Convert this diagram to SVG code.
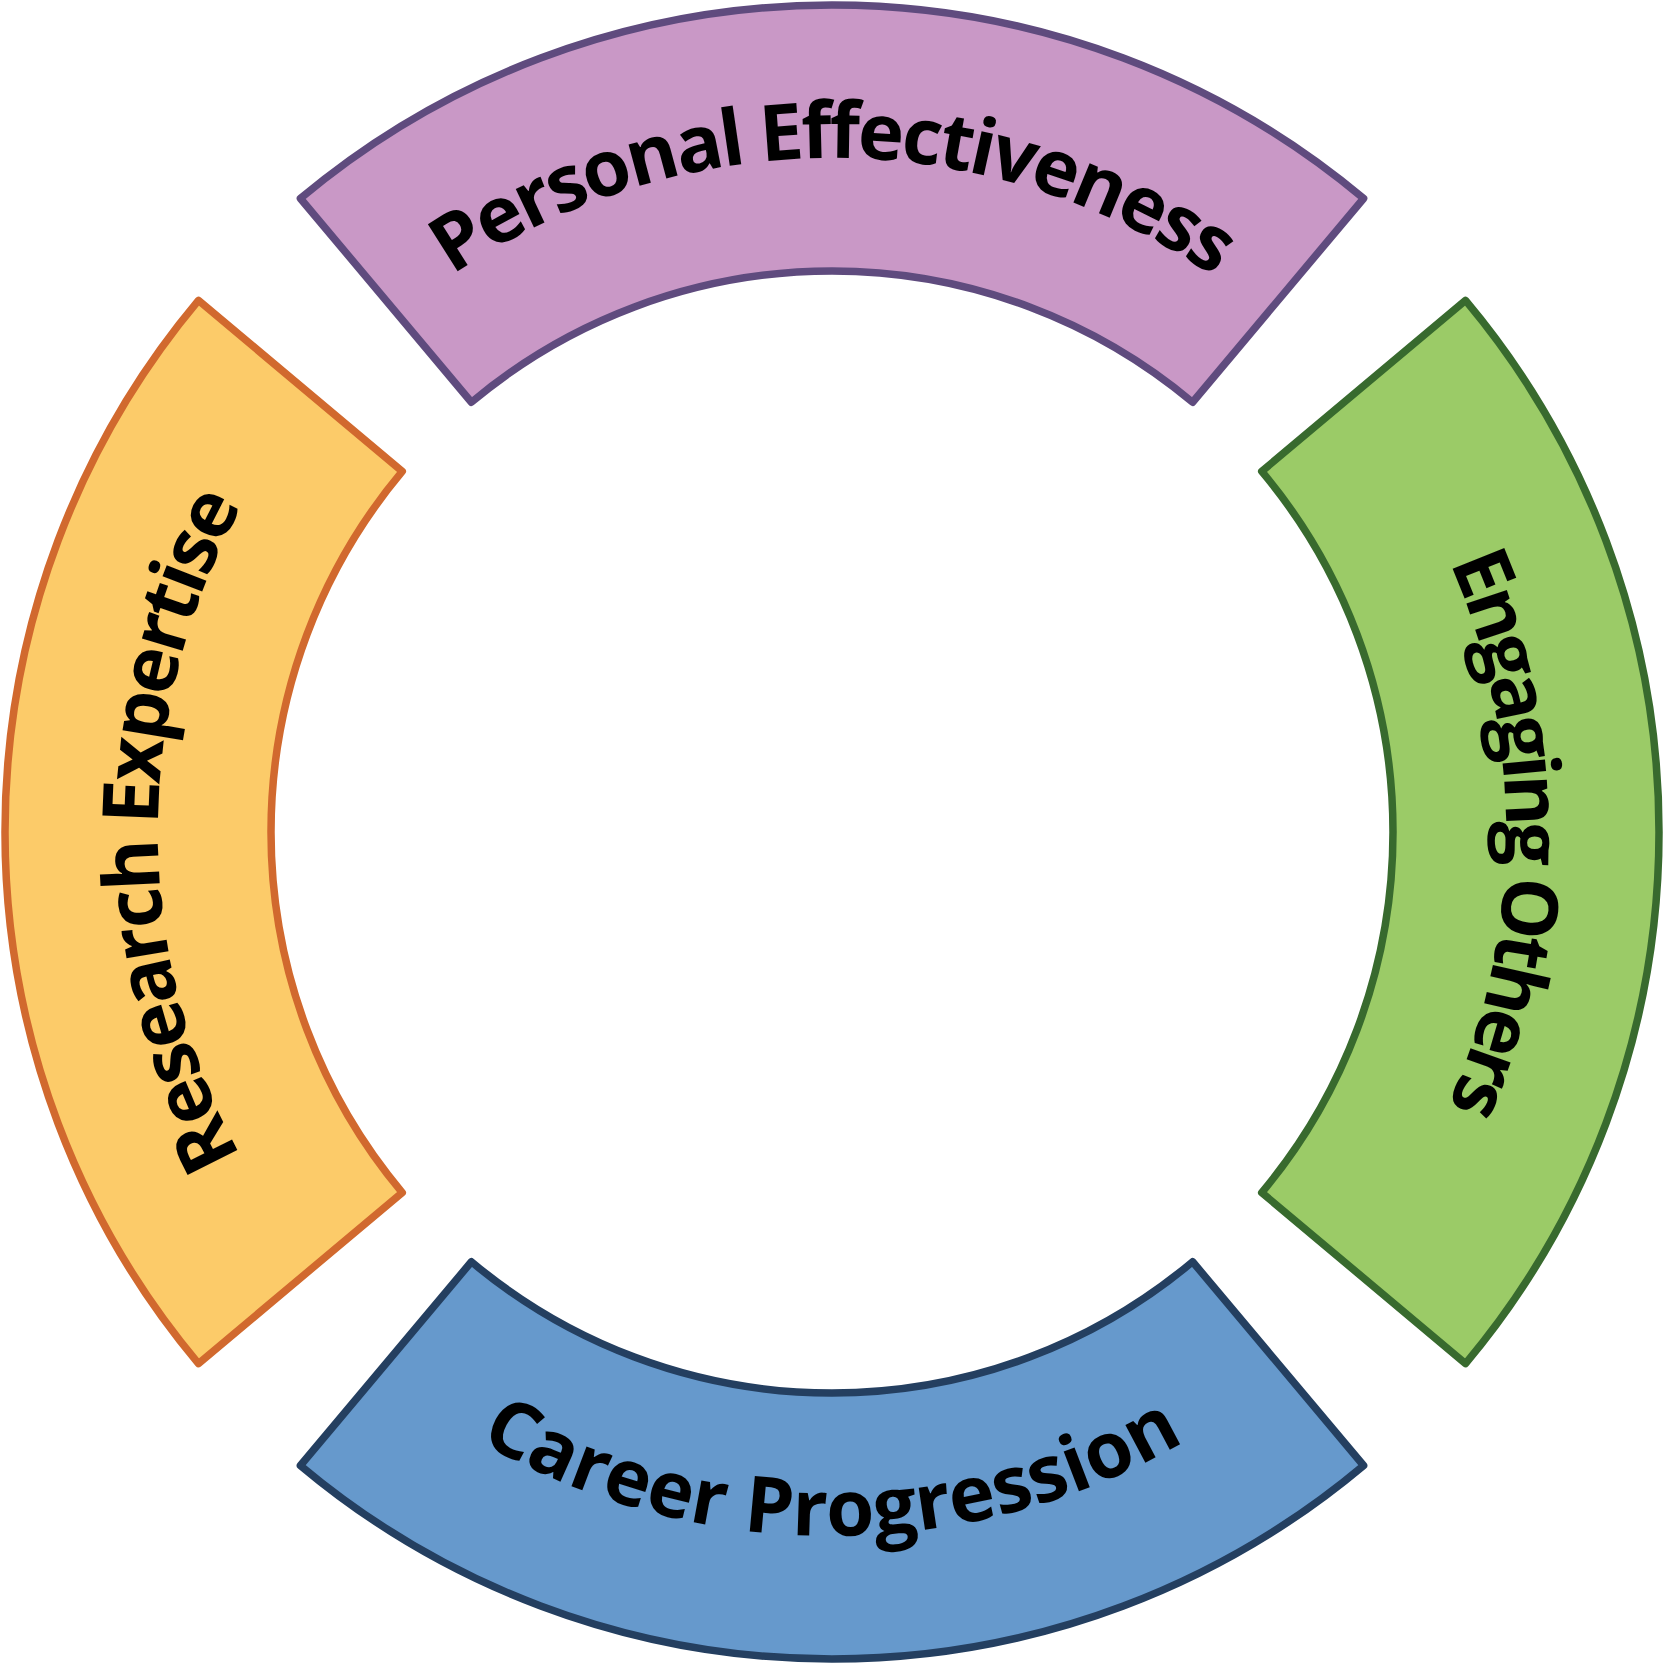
<svg xmlns="http://www.w3.org/2000/svg" xmlns:xlink="http://www.w3.org/1999/xlink" width="1664" height="1664" viewBox="0 0 1664 1664">
  <style>
    .seg { stroke-width: 7.5; stroke-linejoin: round; }
    .lbl { font-family: "Open Sans", "Noto Sans", "Liberation Sans", sans-serif; font-weight: 700; font-size: 78px; fill: #000000; }
  </style>
  <defs>
    <path id="arcTop" d="M 168.24 714.96 A 674 674 0 0 1 1495.76 714.96"/>
    <path id="arcRight" d="M 949.04 168.24 A 674 674 0 0 1 949.04 1495.76"/>
    <path id="arcLeft" d="M 714.96 1495.76 A 674 674 0 0 1 714.96 168.24"/>
    <path id="arcBottom" d="M 138.7 954.25 A 704 704 0 0 0 1525.3 954.25"/>
  </defs>
  <rect width="1664" height="1664" fill="#ffffff"/>
  <g id="personal-effectiveness">
    <path class="seg" fill="#C998C6" stroke="#5F4B7E" d="M 300.42 198.48 A 827 827 0 0 1 1363.58 198.48 L 1192.6 402.25 A 561 561 0 0 0 471.4 402.25 Z"/>
    <text class="lbl" letter-spacing="-3"><textPath xlink:href="#arcTop" href="#arcTop" startOffset="50%" text-anchor="middle">Personal Effectiveness</textPath></text>
  </g>
  <g id="engaging-others">
    <path class="seg" fill="#9BCB67" stroke="#386A2E" d="M 1465.52 300.42 A 827 827 0 0 1 1465.52 1363.58 L 1261.75 1192.6 A 561 561 0 0 0 1261.75 471.4 Z"/>
    <text class="lbl" letter-spacing="-5.5"><textPath xlink:href="#arcRight" href="#arcRight" startOffset="50%" text-anchor="middle">Engaging Others</textPath></text>
  </g>
  <g id="career-progression">
    <path class="seg" fill="#6699CC" stroke="#243F60" d="M 1363.58 1465.52 A 827 827 0 0 1 300.42 1465.52 L 471.4 1261.75 A 561 561 0 0 0 1192.6 1261.75 Z"/>
    <text class="lbl"><textPath xlink:href="#arcBottom" href="#arcBottom" startOffset="50%" text-anchor="middle">Career Progression</textPath></text>
  </g>
  <g id="research-expertise">
    <path class="seg" fill="#FCCB69" stroke="#D1692E" d="M 198.48 1363.58 A 827 827 0 0 1 198.48 300.42 L 402.25 471.4 A 561 561 0 0 0 402.25 1192.6 Z"/>
    <text class="lbl" letter-spacing="-3.5"><textPath xlink:href="#arcLeft" href="#arcLeft" startOffset="50%" text-anchor="middle">Research Expertise</textPath></text>
  </g>
  <g id="connectors"></g>
</svg>
